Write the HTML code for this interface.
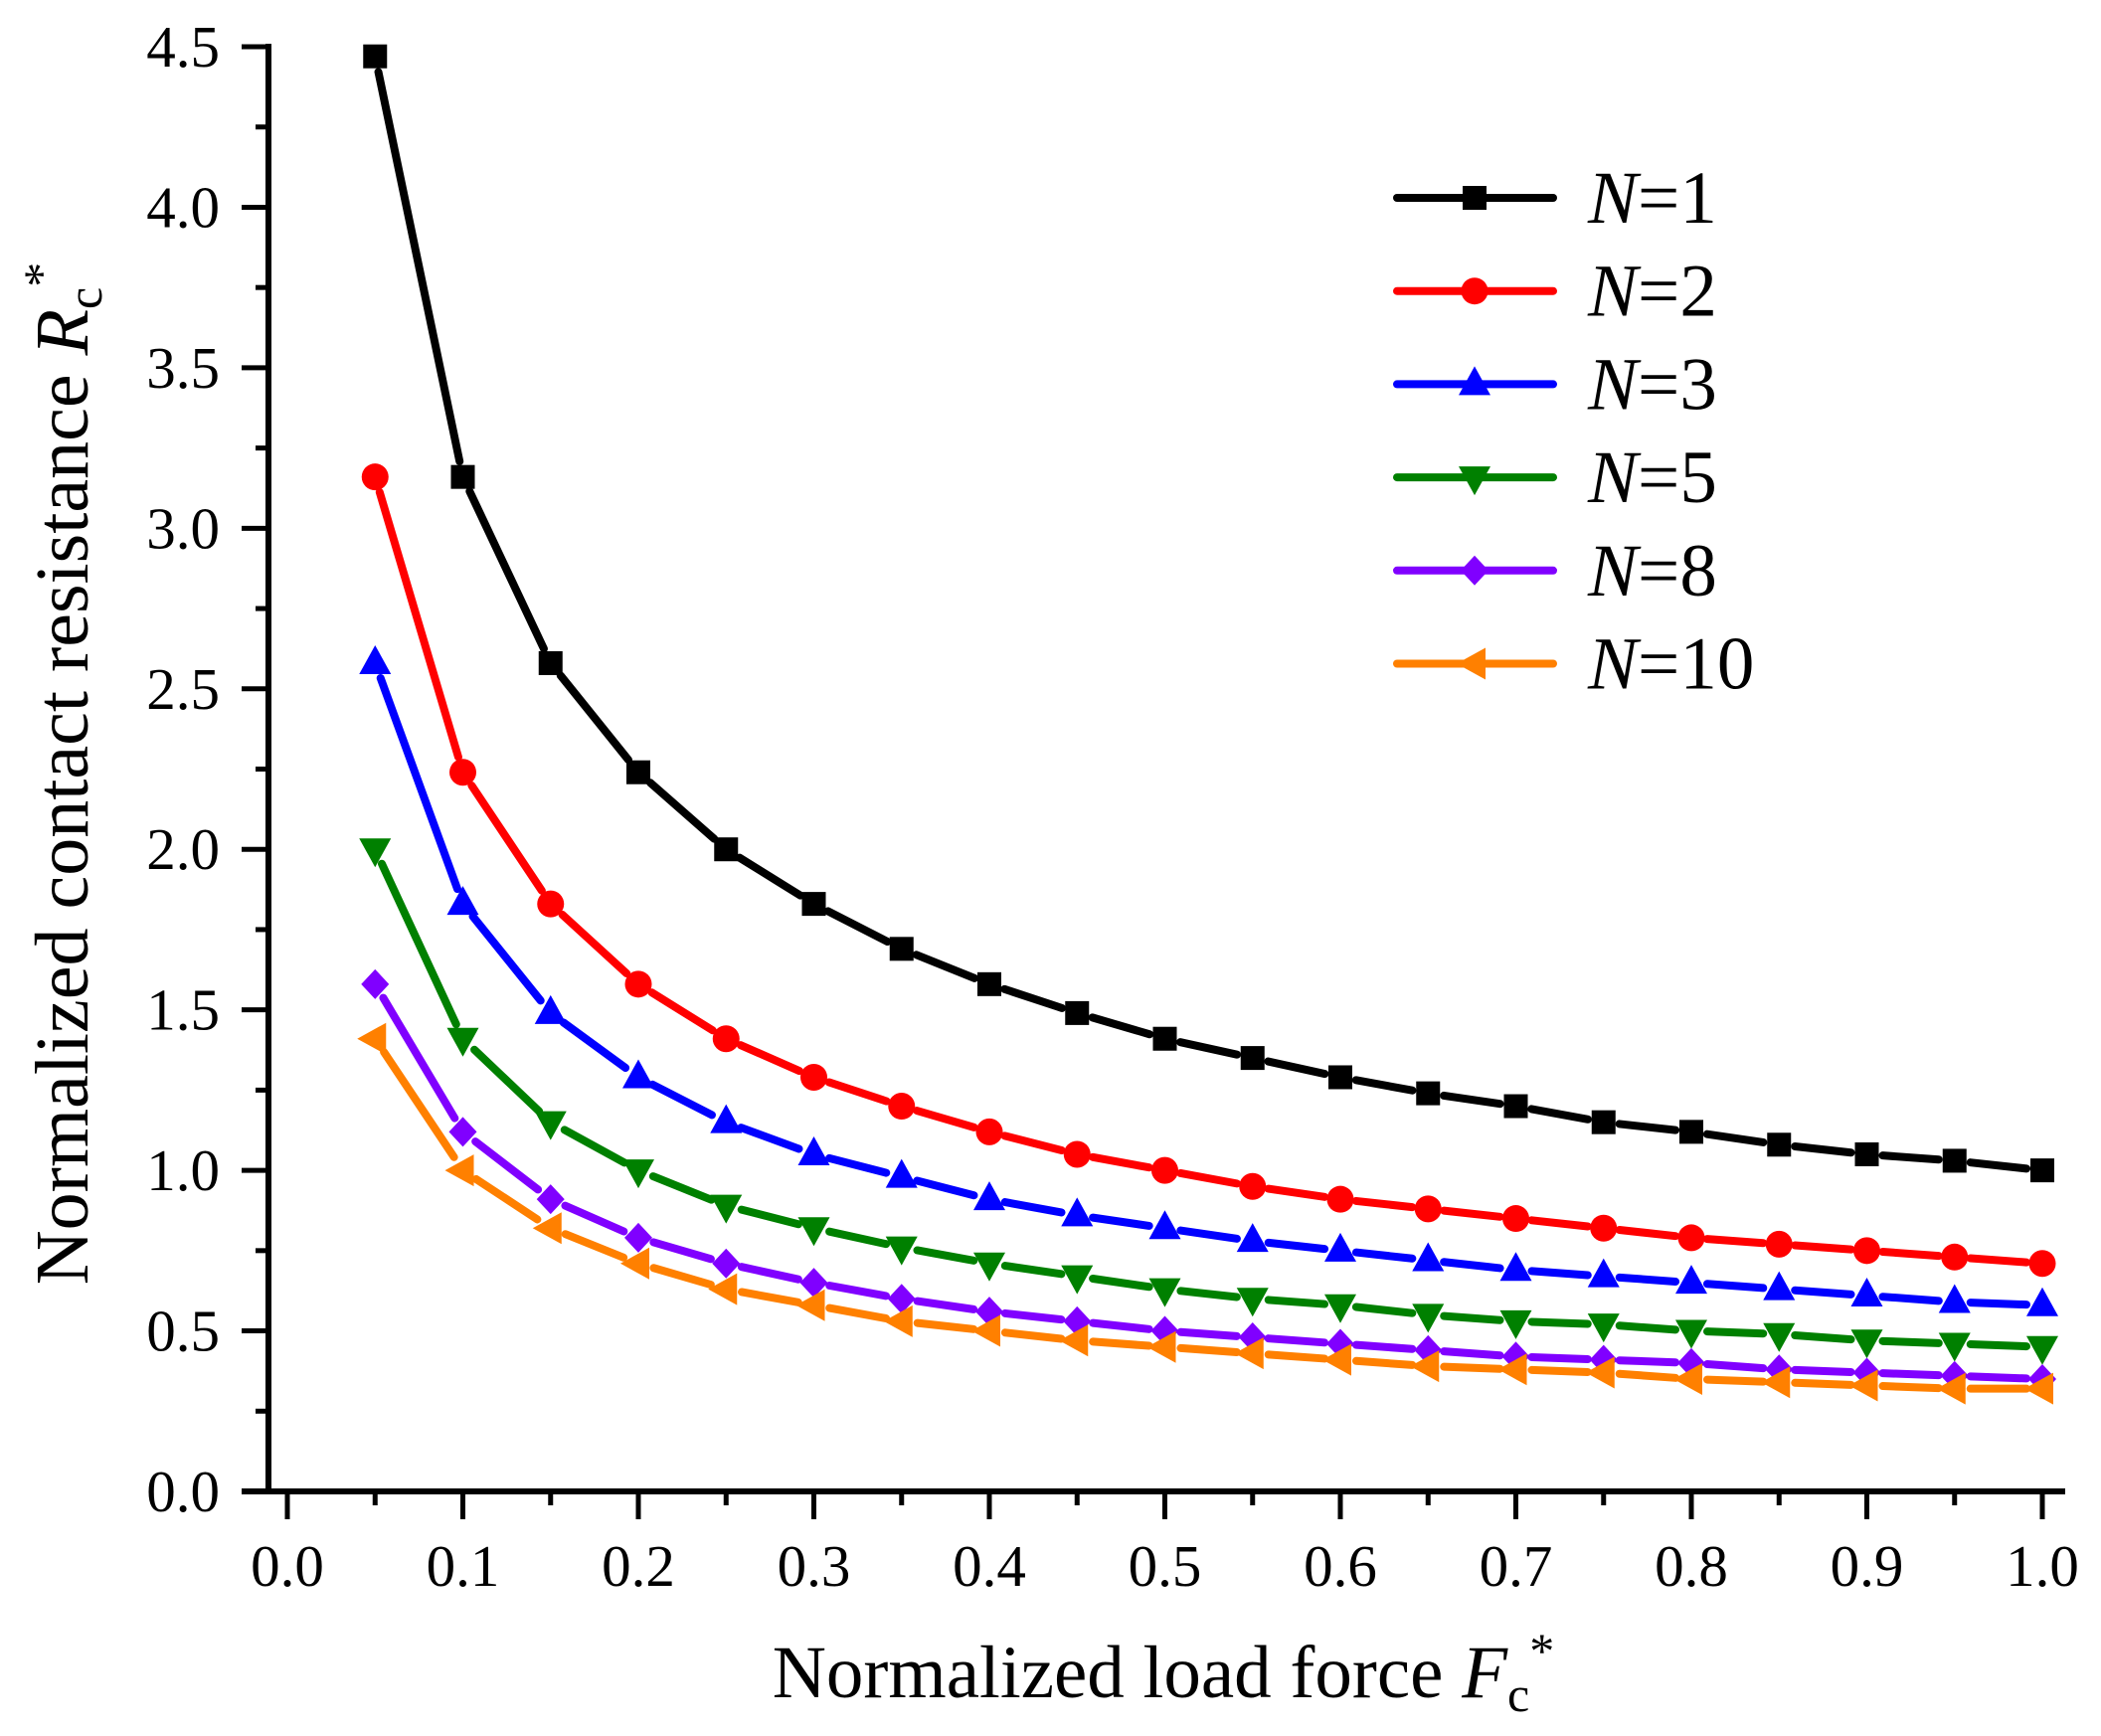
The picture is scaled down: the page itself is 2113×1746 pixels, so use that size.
<!DOCTYPE html>
<html><head><meta charset="utf-8"><style>
html,body{margin:0;padding:0;background:#fff;}
svg{display:block;font-family:"Liberation Serif",serif;}
</style></head><body>
<svg id="chart" width="2113" height="1746" viewBox="0 0 2113 1746" xmlns="http://www.w3.org/2000/svg">
<rect width="2113" height="1746" fill="#fff"/>
<g id="axes"></g>
<g id="series"></g>
<g id="legend"></g>
<text x="1170" y="1707" font-size="75" text-anchor="middle">Normalized load force <tspan font-style="italic">F</tspan><tspan font-size="50" dy="14">c</tspan><tspan font-size="50" dy="-44">*</tspan></text>
<text transform="translate(88,778) rotate(-90)" font-size="76" text-anchor="middle">Normalized contact resistance <tspan font-style="italic">R</tspan><tspan font-size="50" dy="14">c</tspan><tspan font-size="50" dy="-44">*</tspan></text>
</svg>
<script>
const xValues = [0.05,0.1,0.15,0.2,0.25,0.3,0.35,0.4,0.45,0.5,0.55,0.6,0.65,0.7,0.75,0.8,0.85,0.9,0.95,1.0];
const seriesN1 = [4.47,3.16,2.58,2.24,2.00,1.83,1.69,1.58,1.49,1.41,1.35,1.29,1.24,1.20,1.15,1.12,1.08,1.05,1.03,1.00];
const seriesN2 = [3.16,2.24,1.83,1.58,1.41,1.29,1.20,1.12,1.05,1.00,0.95,0.91,0.88,0.85,0.82,0.79,0.77,0.75,0.73,0.71];
const seriesN3 = [2.58,1.83,1.49,1.29,1.15,1.05,0.98,0.91,0.86,0.82,0.78,0.75,0.72,0.69,0.67,0.65,0.63,0.61,0.59,0.58];
const seriesN5 = [2.00,1.41,1.15,1.00,0.89,0.82,0.76,0.71,0.67,0.63,0.60,0.58,0.55,0.53,0.52,0.50,0.49,0.47,0.46,0.45];
const seriesN8 = [1.58,1.12,0.91,0.79,0.71,0.65,0.60,0.56,0.53,0.50,0.48,0.46,0.44,0.42,0.41,0.40,0.38,0.37,0.36,0.35];
const seriesN10 = [1.41,1.00,0.82,0.71,0.63,0.58,0.53,0.50,0.47,0.45,0.43,0.41,0.39,0.38,0.37,0.35,0.34,0.33,0.32,0.32];
const seriesLabels = ["1","2","3","5","8","10"];
const xTickLabels = ["0.0","0.1","0.2","0.3","0.4","0.5","0.6","0.7","0.8","0.9","1.0"];
const yTickLabels = ["0.0","0.5","1.0","1.5","2.0","2.5","3.0","3.5","4.0","4.5"];

const NS="http://www.w3.org/2000/svg";
const X0=289, XS=1765, Y0=1500, YS=(1500-47)/4.5;
function sx(v){return X0+v*XS;}
function sy(v){return Y0-v*YS;}
function mk(tag,attrs,parent){const e=document.createElementNS(NS,tag);for(const k in attrs)e.setAttribute(k,attrs[k]);parent.appendChild(e);return e;}
const axes=document.getElementById('axes');
let e;
e=mk('line',{x1:270,y1:44,x2:270,y2:1503,stroke:'#000','stroke-width':6},axes);


e=mk('line',{x1:243,y1:1500,x2:2077,y2:1500,stroke:'#000','stroke-width':6},axes);


xTickLabels.forEach((t,i)=>{
  const v=parseFloat(t), x=sx(v);
  e=mk('line',{x1:x,y1:1500,x2:x,y2:1528,stroke:'#000','stroke-width':5},axes);
  
  
  if(i<xTickLabels.length-1){
    e=mk('line',{x1:sx(v+0.05),y1:1500,x2:sx(v+0.05),y2:1514,stroke:'#000','stroke-width':5},axes);
    
    
  }
  e=mk('text',{x:x,y:1595,'font-size':59,'text-anchor':'middle'},axes);
  e.textContent=t;
  
  
});
yTickLabels.forEach((t,i)=>{
  const v=parseFloat(t), y=sy(v);
  e=mk('line',{x1:243,y1:y,x2:270,y2:y,stroke:'#000','stroke-width':5},axes);
  
  
  if(i<yTickLabels.length-1){
    e=mk('line',{x1:257,y1:sy(v+0.25),x2:270,y2:sy(v+0.25),stroke:'#000','stroke-width':5},axes);
    
    
  }
  e=mk('text',{x:221,y:y+20,'font-size':59,'text-anchor':'end'},axes);
  e.textContent=t;
  
  
});

const allSeries=[seriesN1,seriesN2,seriesN3,seriesN5,seriesN8,seriesN10];
const colors=['#000000','#ff0000','#0000ff','#008000','#8000ff','#ff8000'];
const shapes=['square','circle','up','down','diamond','left'];
function marker(shape,x,y,c,parent){
  let m;
  if(shape==='square') m=mk('rect',{x:x-12,y:y-12,width:24,height:24,fill:c},parent);
  else if(shape==='circle') m=mk('circle',{cx:x,cy:y,r:13.5,fill:c},parent);
  else if(shape==='up') m=mk('polygon',{points:`${x},${y-18} ${x+16},${y+11} ${x-16},${y+11}`,fill:c},parent);
  else if(shape==='down') m=mk('polygon',{points:`${x},${y+18} ${x+16},${y-11} ${x-16},${y-11}`,fill:c},parent);
  else if(shape==='diamond') m=mk('polygon',{points:`${x},${y-15} ${x+14},${y} ${x},${y+15} ${x-14},${y}`,fill:c},parent);
  else m=mk('polygon',{points:`${x-18},${y} ${x+11},${y-16} ${x+11},${y+16}`,fill:c},parent);
  return m;
}
const sg=document.getElementById('series');
allSeries.forEach((vals,s)=>{
  const g=mk('g',{},sg);
  
  
  for(let i=0;i<vals.length-1;i++){
    const x1=sx(xValues[i]),y1=sy(vals[i]),x2=sx(xValues[i+1]),y2=sy(vals[i+1]);
    const dx=x2-x1,dy=y2-y1,L=Math.hypot(dx,dy),gap=Math.min(16,L/3);
    const ux=dx/L,uy=dy/L;
    const ln=mk('line',{x1:x1+ux*gap,y1:y1+uy*gap,x2:x2-ux*gap,y2:y2-uy*gap,stroke:colors[s],'stroke-width':8,'stroke-linecap':'round'},g);
    
    
  }
  vals.forEach((v,i)=>{
    const m=marker(shapes[s],sx(xValues[i]),sy(v),colors[s],g);
    
    
  });
});
const lg=document.getElementById('legend');
seriesLabels.forEach((lab,s)=>{
  const y=199+s*93.7;
  const g=mk('g',{},lg);
  
  
  e=mk('line',{x1:1405,y1:y,x2:1562,y2:y,stroke:colors[s],'stroke-width':8,'stroke-linecap':'round'},g);
  
  
  e=marker(shapes[s],1483,y,colors[s],g);
  
  
  e=mk('text',{x:1597,y:y+25,'font-size':75},g);
  e.innerHTML='<tspan font-style="italic">N</tspan>='+lab;
  
  
});
</script>
</body></html>
